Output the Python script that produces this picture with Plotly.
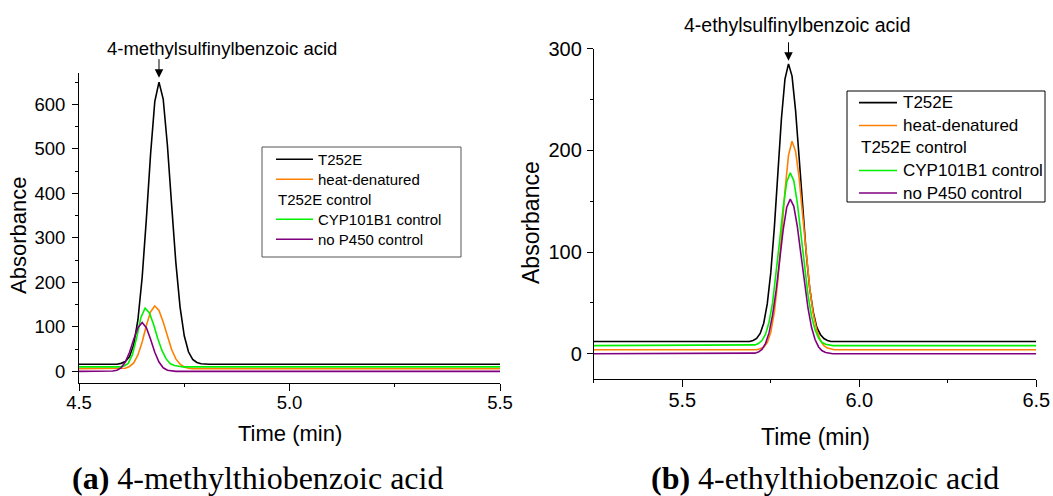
import plotly.graph_objects as go

# ---------------- data ----------------
series_names = ["T252E", "heat-denatured<br>T252E control", "CYP101B1 control", "no P450 control"]
series_colors = ["#000000", "#FF8000", "#00F000", "#800080"]

# Panel (a): 4-methylthiobenzoic acid
a_t252e_time = [4.50, 4.55, 4.59, 4.60, 4.61, 4.62, 4.63, 4.64, 4.65, 4.66, 4.67, 4.68, 4.69,
                4.70, 4.71, 4.72, 4.73, 4.74, 4.75, 4.76, 4.77, 4.78, 4.79, 4.81, 5.00, 5.50]
a_t252e_abs = [16, 16, 16, 18, 22, 33, 60, 116, 211, 342, 488, 606, 650,
               612, 508, 374, 245, 145, 80, 44, 27, 20, 17, 16, 16, 16]

a_heat_time = [4.50, 4.59, 4.60, 4.61, 4.62, 4.63, 4.64, 4.65, 4.66, 4.67, 4.68,
               4.69, 4.70, 4.71, 4.72, 4.73, 4.74, 4.75, 4.76, 4.77, 4.79, 5.50]
a_heat_abs = [6, 6, 6, 7, 11, 19, 37, 66, 103, 134, 147,
              137, 111, 78, 49, 28, 16, 10, 7, 6, 6, 6]

a_cyp_time = [4.50, 4.597, 4.607, 4.617, 4.627, 4.637, 4.647, 4.657,
              4.667, 4.677, 4.687, 4.697, 4.707, 4.717, 4.727, 4.737, 4.747, 4.77, 5.50]
a_cyp_abs = [10, 10, 12, 18, 38, 76, 121, 142,
             132, 106, 74, 47, 28, 17, 13, 11, 10, 10, 10]

a_nop450_time = [4.50, 4.57, 4.58, 4.59, 4.60, 4.61, 4.62, 4.63, 4.64, 4.65,
                 4.66, 4.67, 4.68, 4.69, 4.70, 4.71, 4.72, 4.73, 5.50]
a_nop450_abs = [0, 0, 0.7, 2.6, 8, 21, 43, 72, 98, 110,
                98, 72, 43, 21, 8, 2.6, 0.7, 0, 0]

# Panel (b): 4-ethylthiobenzoic acid
b_t252e_time = [5.25, 5.69, 5.70, 5.71, 5.72, 5.73, 5.74, 5.75, 5.76, 5.77, 5.78, 5.79, 5.80,
                5.81, 5.82, 5.83, 5.84, 5.85, 5.86, 5.87, 5.88, 5.89, 5.90, 5.91, 5.92, 6.50]
b_t252e_abs = [12, 12, 13, 15, 20, 30, 49, 80, 124, 178, 231, 270, 285,
               273, 239, 193, 143, 99, 64, 41, 26, 19, 15, 13, 12, 12]

b_heat_time = [5.25, 5.71, 5.72, 5.73, 5.74, 5.75, 5.76, 5.77, 5.78, 5.79, 5.80, 5.81,
               5.82, 5.83, 5.84, 5.85, 5.86, 5.87, 5.88, 5.89, 5.90, 5.91, 5.92, 5.93, 6.50]
b_heat_abs = [4, 4, 5, 6.5, 11, 21, 41, 72, 115, 160, 195, 209,
              199, 173, 136, 98, 64.5, 39, 23, 13, 8, 5.6, 4.6, 4, 4]

b_cyp_time = [5.25, 5.695, 5.705, 5.715, 5.725, 5.735, 5.745, 5.755, 5.765, 5.775, 5.785, 5.795, 5.805,
              5.815, 5.825, 5.835, 5.845, 5.855, 5.865, 5.875, 5.885, 5.895, 5.905, 5.915, 5.925, 6.50]
b_cyp_abs = [8, 8, 8.7, 10, 13, 19, 31, 50, 78, 111, 144, 169, 178,
             170, 148, 118, 86, 58, 37, 23.5, 15.5, 11, 9.3, 8.5, 8, 8]

b_nop450_time = b_cyp_time
b_nop450_abs = [0, 0, 0.6, 1.7, 4.3, 10, 20.5, 38, 62, 92, 122, 144, 152,
                145, 125, 98, 70, 45, 26, 14, 6.7, 2.9, 1.2, 0.4, 0, 0]

a_x_ticks = [4.5, 5.0, 5.5]
b_x_ticks = [5.5, 6.0, 6.5]
a_y_ticks = [0, 100, 200, 300, 400, 500, 600]
b_y_ticks = [0, 100, 200, 300]

# ---------------- layout helpers ----------------
W, H = 1053, 496
def PX(x):
    return x / W
def PY(y):
    return 1 - y / H

SANS = "Liberation Sans, Arial, sans-serif"
SERIF = "Liberation Serif, Times New Roman, serif"

fig = go.Figure()

panel_a = [(a_t252e_time, a_t252e_abs), (a_heat_time, a_heat_abs),
           (a_cyp_time, a_cyp_abs), (a_nop450_time, a_nop450_abs)]
panel_b = [(b_t252e_time, b_t252e_abs), (b_heat_time, b_heat_abs),
           (b_cyp_time, b_cyp_abs), (b_nop450_time, b_nop450_abs)]

for (t, v), name, col in zip(panel_a, series_names, series_colors):
    fig.add_trace(go.Scatter(x=t, y=v, mode="lines", name=name, showlegend=False,
                             line=dict(color=col, width=1.6), xaxis="x", yaxis="y"))
for (t, v), name, col in zip(panel_b, series_names, series_colors):
    fig.add_trace(go.Scatter(x=t, y=v, mode="lines", name=name, showlegend=False,
                             line=dict(color=col, width=1.6), xaxis="x2", yaxis="y2"))

def xaxis_style(rng, ticks, dom, fs, anchor):
    return dict(range=rng, domain=dom, anchor=anchor, tickvals=ticks,
                ticktext=[f"{v:.1f}" for v in ticks], automargin=False,
                showline=True, linecolor="black", linewidth=1, mirror=False,
                ticks="outside", ticklen=7, tickwidth=1, tickcolor="black",
                minor=dict(dtick=0.25, ticks="outside", ticklen=3, tickcolor="black", tickwidth=1),
                showgrid=False, zeroline=False,
                tickfont=dict(family=SANS, size=fs, color="black"), ticklabelstandoff=-4)

def yaxis_style(rng, ticks, dom, fs, anchor, standoff):
    return dict(range=rng, domain=dom, anchor=anchor, tickvals=ticks, automargin=False,
                showline=True, linecolor="black", linewidth=1, mirror=False,
                ticks="outside", ticklen=6, tickwidth=1, tickcolor="black",
                minor=dict(dtick=50, ticks="outside", ticklen=3, tickcolor="black", tickwidth=1),
                showgrid=False, zeroline=False,
                tickfont=dict(family=SANS, size=fs, color="black"), ticklabelstandoff=standoff)

fig.update_layout(
    width=W, height=H,
    margin=dict(l=0, r=0, t=0, b=0, pad=0, autoexpand=False),
    paper_bgcolor="white", plot_bgcolor="white",
    showlegend=False,
    xaxis=xaxis_style([4.5, 5.5], a_x_ticks, [PX(79), PX(500)], 18.5, "y"),
    yaxis=yaxis_style([-25, 670], a_y_ticks, [PY(382.5), PY(73.2)], 18.5, "x", 3),
    xaxis2=xaxis_style([5.25, 6.5], b_x_ticks, [PX(593.8), PX(1036.3)], 20, "y2"),
    yaxis2=yaxis_style([-25, 300], b_y_ticks, [PY(379.2), PY(48.6)], 20, "x2", 1),
)

ann = []
shapes = []

def text(x, y, s, size, family=SANS, xanchor="center", angle=0):
    ann.append(dict(x=PX(x), y=PY(y), xref="paper", yref="paper", text=s, showarrow=False,
                    xanchor=xanchor, yanchor="middle", textangle=angle,
                    font=dict(family=family, size=size, color="black")))

# axis titles
text(290, 433, "Time (min)", 22)
text(815.7, 437, "Time (min)", 23)
text(18, 236, "Absorbance", 22, angle=-90)
text(531, 223, "Absorbance", 23, angle=-90)

# peak labels + arrows
text(222, 49, "4-methylsulfinylbenzoic acid", 18.5)
text(797, 25.5, "4-ethylsulfinylbenzoic acid", 19.5)
ann.append(dict(x=4.69, y=660, xref="x", yref="y", text="", showarrow=True,
                ax=0, ay=-20, arrowhead=2, arrowsize=1.7, arrowwidth=1, arrowcolor="black"))
ann.append(dict(x=5.80, y=288, xref="x2", yref="y2", text="", showarrow=True,
                ax=0, ay=-20, arrowhead=2, arrowsize=1.7, arrowwidth=1, arrowcolor="black"))

# captions
text(257.5, 477.5, "<b>(a)</b> 4-methylthiobenzoic acid", 32, family=SERIF)
text(825, 478, "<b>(b)</b> 4-ethylthiobenzoic acid", 32, family=SERIF)

# legends (drawn manually: label wraps under the line sample)
def legend(box, line_x0, line_x1, text_x, rows, fs, border):
    x0, y0, x1, y1 = box
    shapes.append(dict(type="rect", xref="paper", yref="paper",
                       x0=PX(x0), x1=PX(x1), y0=PY(y1), y1=PY(y0),
                       line=dict(color=border, width=1), fillcolor="white"))
    labels = ["T252E", "heat-denatured", "T252E control", "CYP101B1 control", "no P450 control"]
    cols = [series_colors[0], series_colors[1], None, series_colors[2], series_colors[3]]
    for lab, col, ry in zip(labels, cols, rows):
        if col is None:
            text(line_x0, ry, lab, fs, xanchor="left")
        else:
            shapes.append(dict(type="line", xref="paper", yref="paper",
                               x0=PX(line_x0), x1=PX(line_x1), y0=PY(ry), y1=PY(ry),
                               line=dict(color=col, width=1.6)))
            text(text_x, ry, lab, fs, xanchor="left")

legend((262, 147, 461, 257), 276, 313, 316, [159.3, 179.3, 199.3, 219.3, 239.3], 15, "#555555")
legend((847, 91, 1045, 202), 859, 897, 901, [102.6, 125.5, 148, 170.5, 193], 17, "#000000")

fig.update_layout(annotations=ann, shapes=shapes)
fig.write_html("out.html")
